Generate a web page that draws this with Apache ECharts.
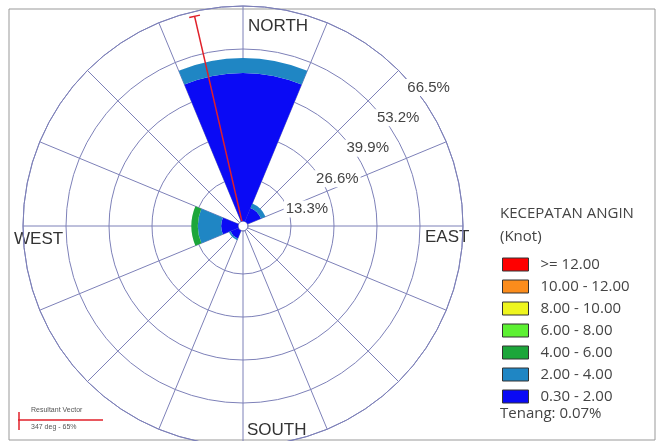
<!DOCTYPE html>
<html>
<head>
<meta charset="utf-8">
<script src="https://cdn.jsdelivr.net/npm/echarts@6/dist/echarts.min.js"></script>
<style>
html, body { margin: 0; padding: 0; background: #fff; }
#chart-panel { width: 659px; height: 441px; }
</style>
</head>
<body>
<div id="chart-panel"></div>
<script>
// arah angin (8 sektor, mulai dari utara searah jarum jam)
var directions = ['N', 'NE', 'E', 'SE', 'S', 'SW', 'W', 'NW'];

// persen frekuensi per kelas kecepatan (knot)
var speed_0_2   = [45.8, 4.5, 0, 0, 0, 2.6, 5.2, 0];
var speed_2_4   = [4.6, 1.5, 0, 0, 0, 0.6, 7.2, 0];
var speed_4_6   = [0, 0, 0, 0, 0, 0, 2.0, 0];
var speed_6_8   = [0, 0, 0, 0, 0, 0, 0, 0];
var speed_8_10  = [0, 0, 0, 0, 0, 0, 0, 0];
var speed_10_12 = [0, 0, 0, 0, 0, 0, 0, 0];
var speed_12    = [0, 0, 0, 0, 0, 0, 0, 0];

var classNames = ['0.30 - 2.00', '2.00 - 4.00', '4.00 - 6.00', '6.00 - 8.00', '8.00 - 10.00', '10.00 - 12.00', '>= 12.00'];
var classColors = ['#0a0af5', '#1f86c4', '#1ca63a', '#5cf032', '#eef51e', '#fb8c1c', '#ff0000'];
var classData = [speed_0_2, speed_2_4, speed_4_6, speed_6_8, speed_8_10, speed_10_12, speed_12];

// lingkaran persen
var ringMax = 66.5;
var ringStep = 13.3;

// resultant vector
var resultDeg = 347;
var resultPct = 65;

var gridColor = '#7d80b8';
var center = [243, 226];
var R = 220;

var myChart = echarts.init(document.getElementById('chart-panel'));

var series = [];
for (var i = 0; i < classNames.length; i++) {
    series.push({
        name: classNames[i],
        type: 'bar',
        coordinateSystem: 'polar',
        polarIndex: 1,
        stack: 'angin',
        barCategoryGap: '0%',
        itemStyle: { color: classColors[i] },
        data: classData[i]
    });
}
series.push({
    name: 'Resultant Vector',
    type: 'line',
    coordinateSystem: 'polar',
    polarIndex: 0,
    lineStyle: { color: '#e0202a', width: 1.5 },
    data: [
        { value: [0, resultDeg], symbol: 'none' },
        { value: [resultPct, resultDeg], symbol: 'rect', symbolSize: [11, 1.5], symbolRotate: 360 - resultDeg, itemStyle: { color: '#e0202a' } }
    ],
    z: 5
});

var option = {
    animation: false,
    title: {
        text: 'KECEPATAN ANGIN\n(Knot)',
        left: 500,
        top: 202,
        padding: 0,
        textStyle: { fontFamily: 'Open Sans', fontSize: 15, fontWeight: 'normal', color: '#444', lineHeight: 23 }
    },
    legend: {
        orient: 'vertical',
        left: 502,
        top: 257,
        padding: 0,
        itemWidth: 26,
        itemHeight: 13,
        itemGap: 7,
        selectedMode: false,
        icon: 'rect',
        itemStyle: { borderColor: '#333', borderWidth: 1 },
        textStyle: { fontFamily: 'Open Sans', fontSize: 15, color: '#444', padding: [0, 0, 0, 7] },
        data: classNames.slice().reverse()
    },
    polar: [
        { center: center, radius: [5, R] },
        { center: center, radius: [5, R] },
        { center: [center[0] + 30, center[1] + 17], radius: [5, R] }
    ],
    angleAxis: [
        {
            polarIndex: 0, type: 'value', min: 0, max: 360, interval: 22.5,
            startAngle: 90, clockwise: true,
            axisLine: { show: true, lineStyle: { color: gridColor, width: 1 } },
            axisTick: { show: false }, axisLabel: { show: false },
            splitLine: { show: true, lineStyle: { color: gridColor, width: 1 } }
        },
        {
            polarIndex: 1, type: 'category', data: directions,
            startAngle: 112.5, clockwise: true,
            axisLine: { show: false }, axisTick: { show: false },
            axisLabel: { show: false }, splitLine: { show: false }
        },
        {
            polarIndex: 2, type: 'value', min: 0, max: 360, startAngle: 45, show: false
        }
    ],
    radiusAxis: [
        {
            polarIndex: 0, min: 0, max: ringMax, interval: ringStep,
            axisLine: { show: false }, axisTick: { show: false }, axisLabel: { show: false },
            splitLine: { show: true, lineStyle: { color: gridColor, width: 1 } }
        },
        { polarIndex: 1, min: 0, max: ringMax, show: false },
        {
            polarIndex: 2, min: 0, max: ringMax, interval: ringStep, z: 10,
            axisLine: { show: false }, axisTick: { show: false }, splitLine: { show: false },
            axisLabel: {
                showMinLabel: false, showMaxLabel: true, margin: 0,
                align: 'center', verticalAlign: 'middle',
                backgroundColor: '#fff', padding: [1, 2],
                fontFamily: 'Liberation Sans', fontSize: 15, color: '#444',
                formatter: function (v) { return v.toFixed(1) + '%'; }
            }
        }
    ],
    graphic: [
        { type: 'rect', silent: true, z: -1, shape: { x: 9, y: 9, width: 646, height: 431 }, style: { fill: null, stroke: '#999', lineWidth: 1 } },
        { type: 'text', left: 248, top: 18, style: { text: 'NORTH', font: '17px "Liberation Sans"', fill: '#333' } },
        { type: 'text', left: 425, top: 229, style: { text: 'EAST', font: '17px "Liberation Sans"', fill: '#333' } },
        { type: 'text', left: 14, top: 231, style: { text: 'WEST', font: '17px "Liberation Sans"', fill: '#333' } },
        { type: 'text', left: 247, top: 422, style: { text: 'SOUTH', font: '17px "Liberation Sans"', fill: '#333' } },
        { type: 'text', left: 500, top: 406, style: { text: 'Tenang: 0.07%', font: '15px "Open Sans"', fill: '#444' } },
        { type: 'line', shape: { x1: 18, y1: 420, x2: 103, y2: 420 }, style: { stroke: '#e0202a', lineWidth: 1.5 } },
        { type: 'line', shape: { x1: 19, y1: 412, x2: 19, y2: 430 }, style: { stroke: '#e0202a', lineWidth: 1.5 } },
        { type: 'text', left: 31, top: 407, style: { text: 'Resultant Vector', font: '7px "Liberation Sans"', fill: '#555' } },
        { type: 'text', left: 31, top: 424, style: { text: resultDeg + ' deg - ' + resultPct + '%', font: '7px "Liberation Sans"', fill: '#555' } }
    ],
    series: series
};
myChart.setOption(option);
</script>
</body>
</html>
